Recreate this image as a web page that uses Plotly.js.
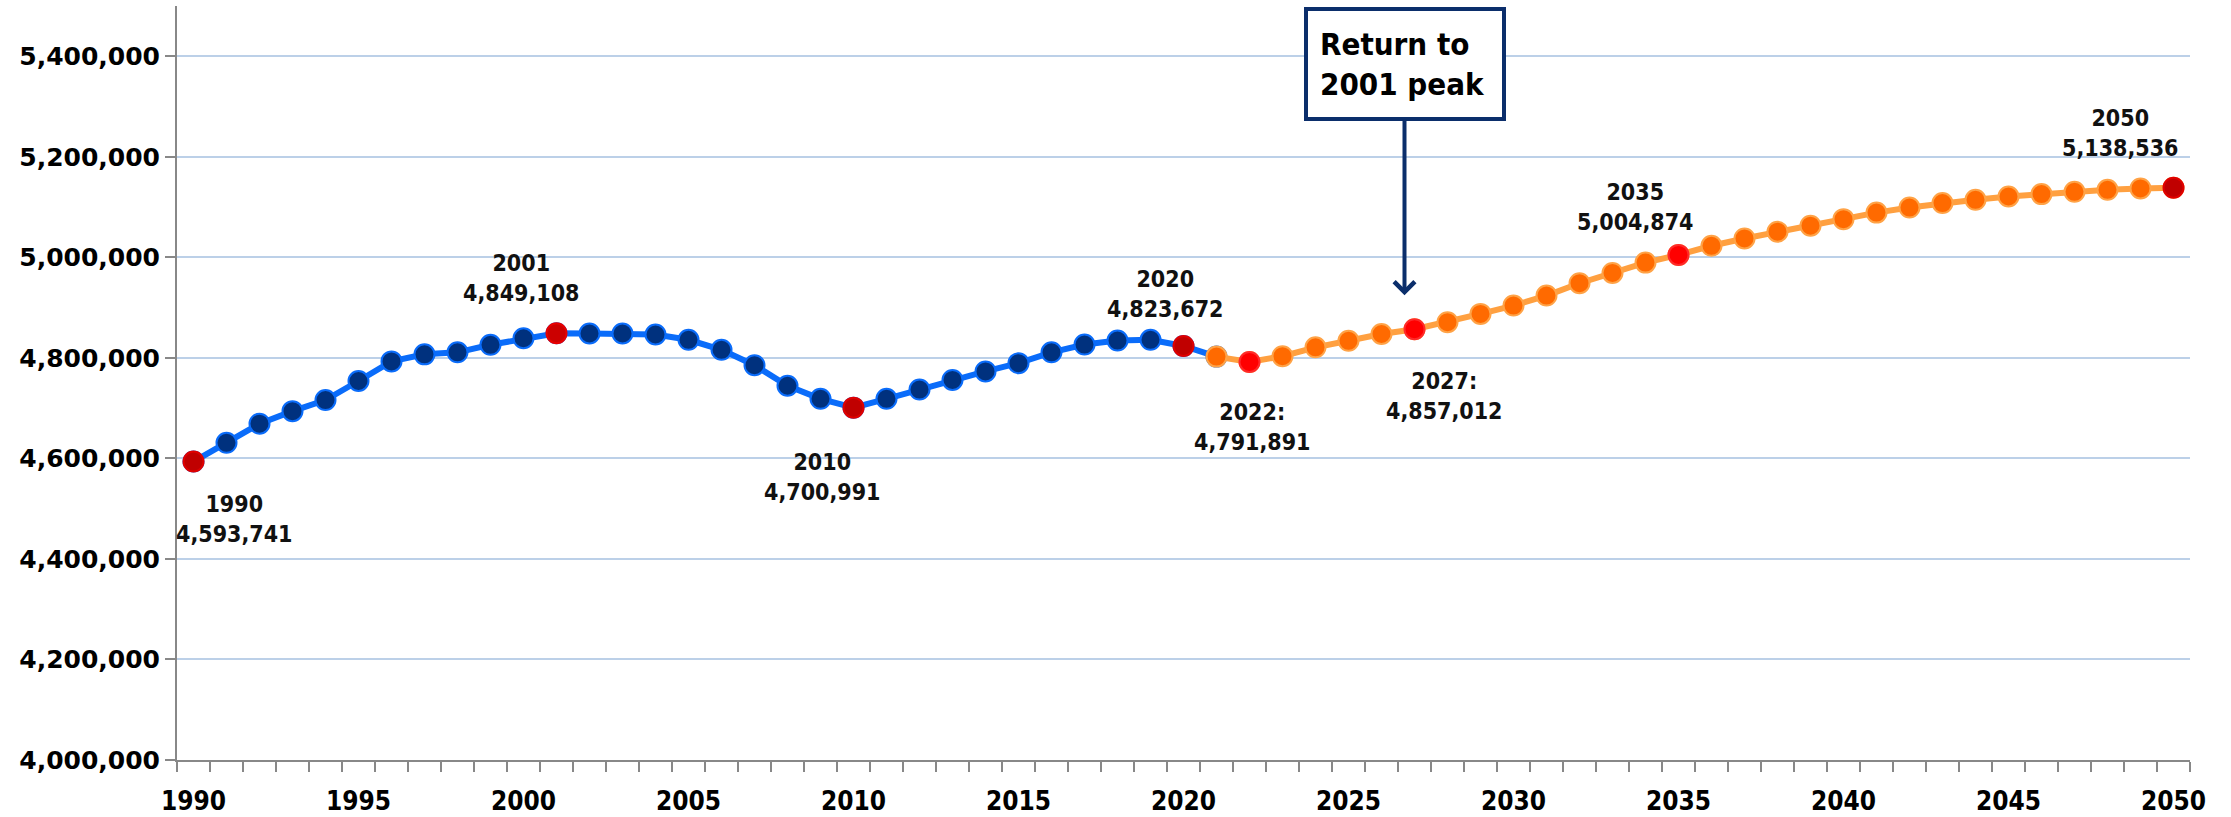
<!DOCTYPE html>
<html>
<head>
<meta charset="utf-8">
<script src="https://cdn.plot.ly/plotly-3.0.1.min.js"></script>
<style>html,body{margin:0;padding:0;background:#fff;}#chart{width:2231px;height:817px;}</style>
</head>
<body>
<div id="chart"></div>
<script>
// ---- data ----
const histYears = [1990,1991,1992,1993,1994,1995,1996,1997,1998,1999,2000,2001,2002,2003,2004,2005,2006,2007,2008,2009,2010,2011,2012,2013,2014,2015,2016,2017,2018,2019,2020,2021];
const histValues = [4593741,4631000,4669000,4694000,4716000,4754000,4793000,4807000,4811000,4826000,4839000,4849108,4848500,4848500,4846500,4836000,4816000,4785500,4744500,4718500,4700991,4718500,4737000,4756000,4773000,4789500,4811000,4826500,4834500,4836000,4823672,4802500];
const projYears = [2021,2022,2023,2024,2025,2026,2027,2028,2029,2030,2031,2032,2033,2034,2035,2036,2037,2038,2039,2040,2041,2042,2043,2044,2045,2046,2047,2048,2049,2050];
const projValues = [4802500,4791891,4803300,4821000,4834000,4847500,4857012,4871000,4887500,4904000,4924000,4948500,4969000,4989500,5004874,5023000,5037500,5051000,5063000,5076000,5089000,5099000,5108000,5114500,5121000,5125800,5130400,5134400,5137000,5138536];
const keyYears = [1990,2001,2010,2020,2022,2027,2035,2050];
const keyValues = [4593741,4849108,4700991,4823672,4791891,4857012,5004874,5138536];
const keyLabelSep = ['', '', '', '', ':', ':', '', ''];
const xTickLabels = [1990,1995,2000,2005,2010,2015,2020,2025,2030,2035,2040,2045,2050];
const yTickValues = [4000000,4200000,4400000,4600000,4800000,5000000,5200000,5400000];
const calloutText = 'Return to<br>2001 peak';
const calloutYear = 2027;

// ---- styles ----
const keyColors = ['#C00000','#CC0000','#C00000','#C00000','#FF0000','#FF0000','#FF0000','#C00000'];
const keyLines  = ['#E00000','#E80000','#E00000','#E00000','#FF2A2A','#FF2A2A','#FF2A2A','#E00000'];
const labelOffsets = [[41,-57],[-35,55],[-31,-69],[-18,52],[3,-65],[30,-67],[-43,48],[-53,55]];
const condFont = 'DejaVu Sans Condensed, DejaVu Sans, sans-serif';

const traces = [
  {x: histYears, y: histValues, type:'scatter', mode:'lines+markers', hoverinfo:'skip',
   line:{color:'#0A6CFA', width:6},
   marker:{size:20, color:'#00317E', line:{color:'#0A6CFA', width:2}}},
  {x: projYears, y: projValues, type:'scatter', mode:'lines+markers', hoverinfo:'skip',
   line:{color:'#FFA040', width:6},
   marker:{size:20, color:'#FF6A00', line:{color:'#FFA347', width:2}}},
  {x: keyYears, y: keyValues, type:'scatter', mode:'markers', hoverinfo:'skip',
   marker:{size:20, color:keyColors, line:{color:keyLines, width:2}}}
];

const annotations = keyYears.map((yr, i) => ({
  x: yr, y: keyValues[i], xref:'x', yref:'y',
  text: yr + keyLabelSep[i] + '<br>' + keyValues[i].toLocaleString('en-US'),
  showarrow:false, xshift: labelOffsets[i][0], yshift: labelOffsets[i][1],
  font:{family:condFont, size:23, color:'#111', weight:'bold'}, align:'center'
}));
const ci = keyYears.indexOf(calloutYear);
annotations.push({
  x: calloutYear, y: keyValues[ci], xref:'x', yref:'y',
  text: calloutText, showarrow:true, ax:0, ay:-265, xshift:-10,
  arrowhead:4, arrowsize:1, arrowwidth:4, arrowcolor:'#0B2E6B', standoff:34,
  bordercolor:'#0B2E6B', borderwidth:4, borderpad:12, bgcolor:'#fff',
  width:170, height:82, align:'left', valign:'middle',
  font:{family:condFont, size:31, color:'#000', weight:'bold'}
});

const layout = {
  width:2231, height:817,
  margin:{l:177, r:41, t:6, b:57},
  paper_bgcolor:'#fff', plot_bgcolor:'#fff', showlegend:false,
  xaxis:{range:[1989.5,2050.5], tickvals:xTickLabels, ticks:'', showgrid:false, zeroline:false,
    showline:true, linecolor:'#888', linewidth:2, ticklabelstandoff:17,
    tickfont:{family:condFont, size:26, color:'#000', weight:'bold'},
    minor:{tick0:1989.5, dtick:1, ticks:'outside', ticklen:10, tickwidth:2, tickcolor:'#888', showgrid:false}},
  yaxis:{range:[4000000,5500000], tickvals:yTickValues, tickformat:',d', ticks:'outside', ticklen:10,
    tickwidth:2, tickcolor:'#888', showline:true, linecolor:'#888', linewidth:2,
    showgrid:true, gridcolor:'#BCD0E8', gridwidth:2, zeroline:false,
    tickfont:{family:'DejaVu Sans, Verdana, sans-serif', size:25, color:'#000', weight:'bold'}},
  annotations: annotations
};
Plotly.newPlot('chart', traces, layout, {staticPlot:true});
</script>
</body>
</html>
